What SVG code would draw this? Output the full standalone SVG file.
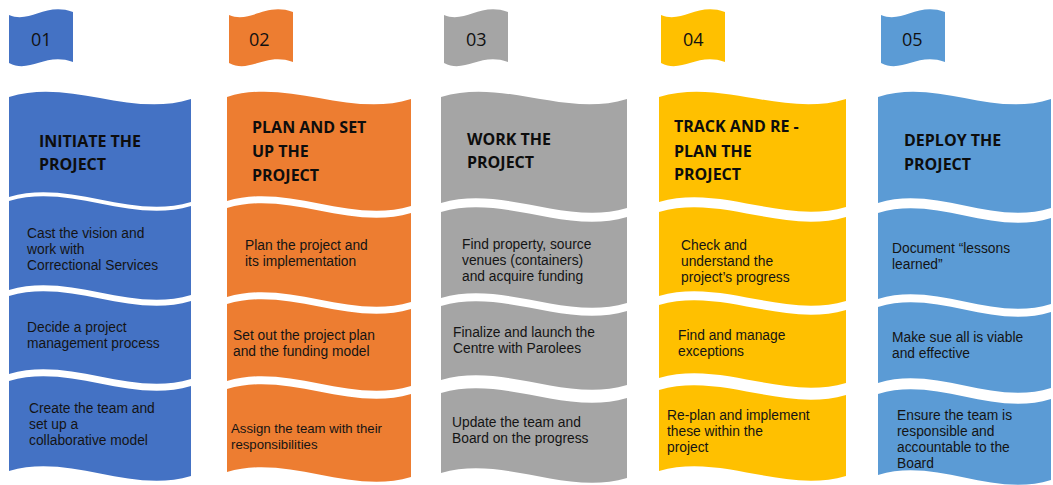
<svg xmlns="http://www.w3.org/2000/svg" xmlns:xlink="http://www.w3.org/1999/xlink" width="1053" height="485" viewBox="0 0 1053 485">
<defs>
<style>
.num{font-family:"Open Sans","Noto Sans",sans-serif;font-size:18px;fill:#111}
.hd{font-family:"Open Sans","Noto Sans",sans-serif;font-size:16px;font-weight:bold;fill:#0d0d0d}
.tx{font-family:"Liberation Sans",Arial,sans-serif;font-size:13.8px;fill:#141414}
.sm{font-size:13.2px}
.c1{fill:#4472C4}.c2{fill:#ED7D31}.c3{fill:#A5A5A5}.c4{fill:#FFC000}.c5{fill:#5B9BD5}
</style>
<path id="tab" d="M0,15 C21,24 36,2 64,12 L64,62 C36,52 21,74 0,63 Z"/>
</defs>
<rect width="1053" height="485" fill="#fff"/>
<g id="connectors"/>

<g id="col1">
<g id="tab1"><use xlink:href="#tab" x="9" class="c1"/><text class="num" x="31" y="46">01</text></g>
<g id="head1"><path class="c1" d="M9,97 C70,77.7 130,118.3 191,99 L191,202 C130,220.3 70,178.7 9,197 Z"/>
<text class="hd"><tspan x="39" y="147">INITIATE THE</tspan><tspan x="39" y="170">PROJECT</tspan></text></g>
<g id="step1a"><path class="c1" d="M9,201 C70,182.7 130,224.3 191,206 L191,295 C130,313.3 70,271.7 9,290 Z"/>
<text class="tx"><tspan x="27" y="238">Cast the vision and</tspan><tspan x="27" y="254">work with</tspan><tspan x="27" y="270">Correctional Services</tspan></text></g>
<g id="step1b"><path class="c1" d="M9,296 C70,277.7 130,319.3 191,301 L191,379 C130,397.3 70,355.7 9,374 Z"/>
<text class="tx"><tspan x="27" y="332">Decide a project</tspan><tspan x="27" y="348">management process</tspan></text></g>
<g id="step1c"><path class="c1" d="M9,381 C70,362.7 130,404.3 191,386 L191,476 C130,494.3 70,452.7 9,471 Z"/>
<text class="tx"><tspan x="29" y="413">Create the team and</tspan><tspan x="29" y="429">set up a</tspan><tspan x="29" y="445">collaborative model</tspan></text></g>
</g>

<g id="col2">
<g id="tab2"><use xlink:href="#tab" x="229" class="c2"/><text class="num" x="249" y="46">02</text></g>
<g id="head2"><path class="c2" d="M227,97 C288,77.7 350,118.3 411,99 L411,206 C350,224.3 288,182.7 227,201 Z"/>
<text class="hd"><tspan x="252" y="133">PLAN AND SET</tspan><tspan x="252" y="157">UP THE</tspan><tspan x="252" y="181">PROJECT</tspan></text></g>
<g id="step2a"><path class="c2" d="M227,208 C288,189.7 350,231.3 411,213 L411,302 C350,320.3 288,278.7 227,297 Z"/>
<text class="tx"><tspan x="245" y="250">Plan the project and</tspan><tspan x="245" y="266">its implementation</tspan></text></g>
<g id="step2b"><path class="c2" d="M227,304 C288,285.7 350,327.3 411,309 L411,386 C350,404.3 288,362.7 227,381 Z"/>
<text class="tx"><tspan x="233" y="340">Set out the project plan</tspan><tspan x="233" y="356">and the funding model</tspan></text></g>
<g id="step2c"><path class="c2" d="M227,389 C288,370.7 350,412.3 411,394 L411,477 C350,495.3 288,453.7 227,472 Z"/>
<text class="tx sm"><tspan x="231" y="433">Assign the team with their</tspan><tspan x="231" y="449">responsibilities</tspan></text></g>
</g>

<g id="col3">
<g id="tab3"><use xlink:href="#tab" x="444" class="c3"/><text class="num" x="466" y="46">03</text></g>
<g id="head3"><path class="c3" d="M441,97 C503,77.7 565,118.3 627,99 L627,208 C565,226.3 503,184.7 441,203 Z"/>
<text class="hd"><tspan x="467" y="145">WORK THE</tspan><tspan x="467" y="168">PROJECT</tspan></text></g>
<g id="step3a"><path class="c3" d="M441,212 C503,193.7 565,235.3 627,217 L627,303 C565,321.3 503,279.7 441,298 Z"/>
<text class="tx"><tspan x="462" y="249">Find property, source</tspan><tspan x="462" y="265">venues (containers)</tspan><tspan x="462" y="281">and acquire funding</tspan></text></g>
<g id="step3b"><path class="c3" d="M441,306 C503,287.7 565,329.3 627,311 L627,385 C565,403.3 503,361.7 441,380 Z"/>
<text class="tx"><tspan x="453" y="337">Finalize and launch the</tspan><tspan x="453" y="353">Centre with Parolees</tspan></text></g>
<g id="step3c"><path class="c3" d="M441,393 C503,374.7 565,416.3 627,398 L627,478 C565,496.3 503,454.7 441,473 Z"/>
<text class="tx"><tspan x="452" y="427">Update the team and</tspan><tspan x="452" y="443">Board on the progress</tspan></text></g>
</g>

<g id="col4">
<g id="tab4"><use xlink:href="#tab" x="661" class="c4"/><text class="num" x="683" y="46">04</text></g>
<g id="head4"><path class="c4" d="M659,97 C721,77.7 784,118.3 846,99 L846,207 C784,225.3 721,183.7 659,202 Z"/>
<text class="hd"><tspan x="674" y="132">TRACK AND RE -</tspan><tspan x="674" y="157">PLAN THE</tspan><tspan x="674" y="180">PROJECT</tspan></text></g>
<g id="step4a"><path class="c4" d="M659,212 C721,193.7 784,235.3 846,217 L846,301 C784,319.3 721,277.7 659,296 Z"/>
<text class="tx"><tspan x="681" y="250">Check and</tspan><tspan x="681" y="266">understand the</tspan><tspan x="681" y="282">project’s progress</tspan></text></g>
<g id="step4b"><path class="c4" d="M659,305 C721,286.7 784,328.3 846,310 L846,383 C784,401.3 721,359.7 659,378 Z"/>
<text class="tx"><tspan x="678" y="340">Find and manage</tspan><tspan x="678" y="356">exceptions</tspan></text></g>
<g id="step4c"><path class="c4" d="M659,390 C721,371.7 784,413.3 846,395 L846,476 C784,494.3 721,452.7 659,471 Z"/>
<text class="tx"><tspan x="667" y="420">Re-plan and implement</tspan><tspan x="667" y="436">these within the</tspan><tspan x="667" y="452">project</tspan></text></g>
</g>

<g id="col5">
<g id="tab5"><use xlink:href="#tab" x="881" class="c5"/><text class="num" x="902" y="46">05</text></g>
<g id="head5"><path class="c5" d="M878,97 C936,77.7 993,118.3 1051,99 L1051,208 C993,226.3 936,184.7 878,203 Z"/>
<text class="hd"><tspan x="904" y="146">DEPLOY THE</tspan><tspan x="904" y="170">PROJECT</tspan></text></g>
<g id="step5a"><path class="c5" d="M878,213 C936,194.7 993,236.3 1051,218 L1051,304 C993,322.3 936,280.7 878,299 Z"/>
<text class="tx"><tspan x="892" y="253">Document “lessons</tspan><tspan x="892" y="269">learned”</tspan></text></g>
<g id="step5b"><path class="c5" d="M878,307 C936,288.7 993,330.3 1051,312 L1051,388 C993,406.3 936,364.7 878,383 Z"/>
<text class="tx"><tspan x="892" y="342">Make sue all is viable</tspan><tspan x="892" y="358">and effective</tspan></text></g>
<g id="step5c"><path class="c5" d="M878,394 C936,375.7 993,417.3 1051,399 L1051,480 C993,498.3 936,456.7 878,475 Z"/>
<text class="tx"><tspan x="897" y="420">Ensure the team is</tspan><tspan x="897" y="436">responsible and</tspan><tspan x="897" y="452">accountable to the</tspan><tspan x="897" y="468">Board</tspan></text></g>
</g>
</svg>
